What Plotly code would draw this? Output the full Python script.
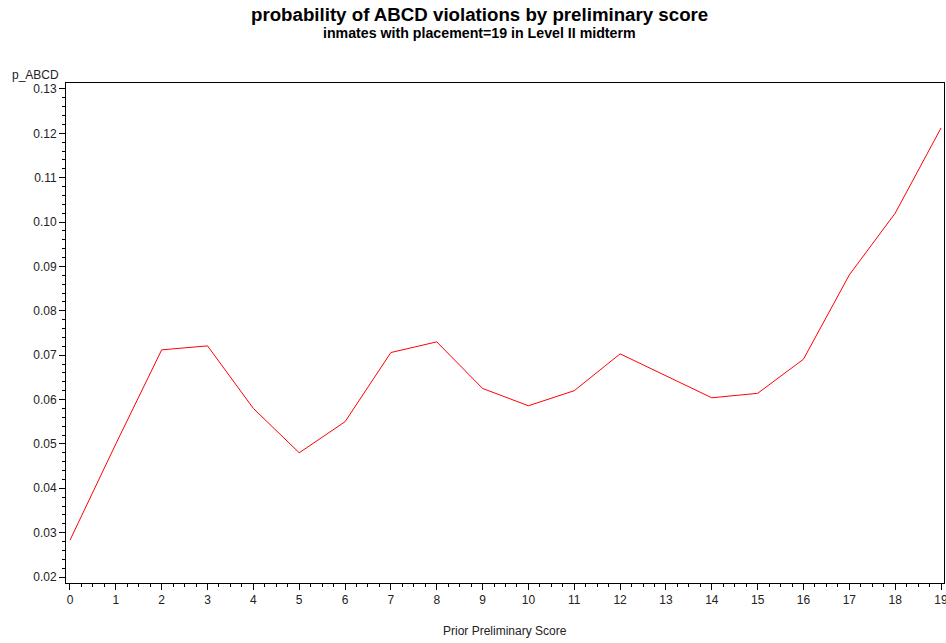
import plotly.graph_objects as go

# Prior preliminary score and predicted probability of ABCD violations
scores = list(range(20))
p_abcd = [0.0283, 0.0500, 0.0712, 0.0721, 0.0580, 0.0480, 0.0550, 0.0706,
          0.0730, 0.0625, 0.0586, 0.0620, 0.0703, 0.0653, 0.0604, 0.0614,
          0.0691, 0.0881, 0.1020, 0.1212]
y_ticks = [0.02, 0.03, 0.04, 0.05, 0.06, 0.07, 0.08, 0.09, 0.10, 0.11, 0.12, 0.13]

FONT = "Liberation Sans, Arial, sans-serif"

fig = go.Figure(
    go.Scatter(x=scores, y=p_abcd, mode="lines",
               line=dict(color="#ff0000", width=1), hoverinfo="x+y")
)

axis_common = dict(
    showgrid=False, zeroline=False, showline=True, linecolor="black",
    linewidth=1, mirror=True, ticks="outside", tickcolor="black",
    tickwidth=1, ticklen=6, ticklabeloverflow="allow", automargin=False,
    tickfont=dict(family=FONT, size=12, color="#222222"),
    minor=dict(ticks="outside", ticklen=3, tickcolor="black", tickwidth=1),
)

fig.update_xaxes(
    range=[-0.087, 19.065], tickmode="array", tickvals=scores,
    ticktext=[str(s) for s in scores], minor_dtick=0.25, minor_tick0=0,
    **axis_common,
)
fig.update_yaxes(
    range=[0.01865, 0.13135], tickmode="array", tickvals=y_ticks,
    ticktext=[f"{v:.2f}" for v in y_ticks], minor_dtick=0.002, minor_tick0=0,
    **axis_common,
)

fig.update_layout(
    width=946, height=643,
    margin=dict(l=66, r=2, t=83, b=60),
    paper_bgcolor="white", plot_bgcolor="white",
    showlegend=False,
    annotations=[
        dict(text="<b>probability of ABCD violations by preliminary score</b>",
             x=479, y=15, showarrow=False,
             font=dict(family=FONT, size=18.7, color="black")),
        dict(text="<b>inmates with placement=19 in Level II midterm</b>",
             x=479, y=33, showarrow=False,
             font=dict(family=FONT, size=14.2, color="black")),
        dict(text="p_ABCD", x=10, y=75, showarrow=False,
             font=dict(family=FONT, size=12, color="#222222")),
        dict(text="Prior Preliminary Score", x=505, y=631, showarrow=False,
             font=dict(family=FONT, size=12, color="#222222")),
    ],
)

# Position the text annotations in pixel terms relative to the page
W, H = 946, 643
l, r, t, b = 66, 2, 83, 60
pw, ph = W - l - r, H - t - b
anchors = ["center", "center", "left", "center"]
for ann, xa in zip(fig.layout.annotations, anchors):
    px, py = ann.x, ann.y
    ann.x = (px - l) / pw
    ann.y = 1 - (py - t) / ph
    ann.xref = "paper"
    ann.yref = "paper"
    ann.xanchor = xa
    ann.yanchor = "middle"

fig.write_html("out.html")
